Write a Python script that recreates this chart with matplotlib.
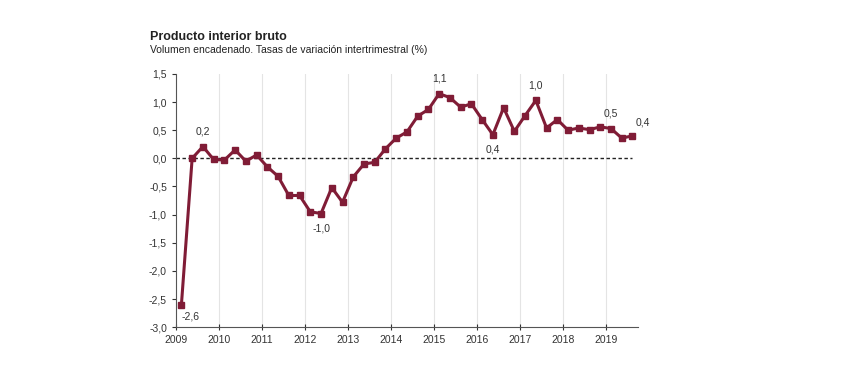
import numpy as np
import matplotlib.pyplot as plt

plt.rcParams['font.family'] = ['Liberation Sans', 'DejaVu Sans']

# quarterly GDP growth, 2009 Q1 .. 2019 Q3
years = list(range(2009, 2020))
growth = [-2.6, 0.0, 0.21, -0.02,
          -0.03, 0.15, -0.05, 0.06,
          -0.15, -0.32, -0.66, -0.66,
          -0.95, -0.98, -0.52, -0.78,
          -0.33, -0.10, -0.07, 0.17,
          0.36, 0.47, 0.75, 0.87,
          1.15, 1.08, 0.91, 0.97,
          0.69, 0.42, 0.90, 0.48,
          0.76, 1.03, 0.54, 0.69,
          0.50, 0.54, 0.51, 0.56,
          0.53, 0.36, 0.40]
# (index, text, dx, dy, ha, va)
labels = [(0, '-2,6', 0, -5, 'left', 'top'),
          (2, '0,2', 0, 7, 'center', 'bottom'),
          (13, '-1,0', 0, -7, 'center', 'top'),
          (24, '1,1', 0, 7, 'center', 'bottom'),
          (29, '0,4', 0, -7, 'center', 'top'),
          (33, '1,0', 0, 7, 'center', 'bottom'),
          (40, '0,5', 0, 7, 'center', 'bottom'),
          (42, '0,4', 2, 6, 'left', 'bottom')]

COLOR = '#801c36'

x = 2009 + (np.arange(len(growth)) + 0.5) / 4.0

fig = plt.figure(figsize=(8.6, 3.68), dpi=100)
ax = fig.add_axes([0.2047, 0.111, 0.537, 0.688])

for yr in years[1:]:
    ax.axvline(yr, color='#e4e4e4', lw=0.8, zorder=0)
ax.plot([2009, x[-1]], [0, 0], color='#222222', lw=1.0, ls=(0, (2.5, 1.8)), zorder=1)
ax.plot(x, growth, color=COLOR, lw=2.2, marker='s', ms=4.5, zorder=3)

for i, txt, dx, dy, ha, va in labels:
    ax.annotate(txt, (x[i], growth[i]), xytext=(dx, dy), textcoords='offset points',
                ha=ha, va=va, fontsize=7.5, color='#333333')

ax.set_xlim(2009, 2019.75)
ax.set_ylim(-3.0, 1.5)
ax.set_xticks(years)
ax.set_xticklabels([str(y) for y in years])
yt = np.arange(-3.0, 1.51, 0.5)
ax.set_yticks(yt)
ax.set_yticklabels([('%.1f' % v).replace('.', ',') for v in yt])
ax.tick_params(axis='both', labelsize=7.5, colors='#333333', length=3, width=0.8)
ax.tick_params(axis='x', direction='inout', length=5)
for s in ['top', 'right']:
    ax.spines[s].set_visible(False)
for s in ['left', 'bottom']:
    ax.spines[s].set_color('#555555')
    ax.spines[s].set_linewidth(0.8)

fig.text(150 / 860, 1 - 37 / 368, 'Producto interior bruto', fontsize=9,
         fontweight='bold', color='#222222', va='center')
fig.text(150 / 860, 1 - 50 / 368, 'Volumen encadenado. Tasas de variación intertrimestral (%)',
         fontsize=7.5, color='#222222', va='center')

fig.savefig('out.png', dpi=100)
